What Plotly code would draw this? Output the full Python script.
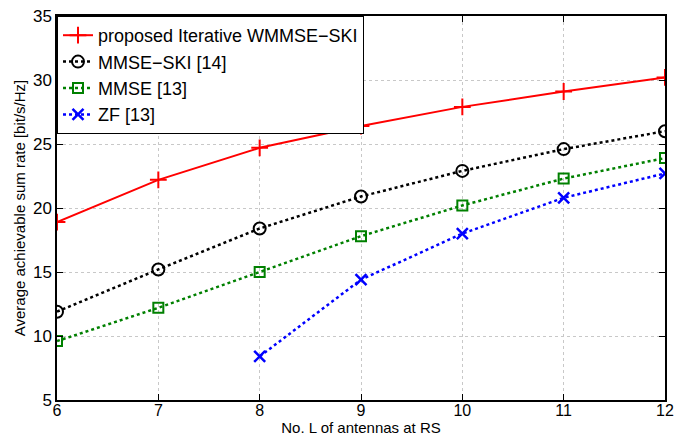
import plotly.graph_objects as go

L = [6, 7, 8, 9, 10, 11, 12]
proposed = [18.9, 22.2, 24.7, 26.4, 27.9, 29.1, 30.2]
mmse_ski = [11.9, 15.2, 18.4, 20.9, 22.9, 24.6, 26.0]
mmse = [9.6, 12.2, 15.0, 17.8, 20.2, 22.3, 23.9]
zf_L = [8, 9, 10, 11, 12]
zf = [8.4, 14.4, 18.0, 20.8, 22.7]

x_ticks = [6, 7, 8, 9, 10, 11, 12]
y_ticks = [5, 10, 15, 20, 25, 30, 35]

fig = go.Figure()
fig.add_trace(go.Scatter(x=L, y=proposed, mode="lines+markers",
                         name="proposed Iterative WMMSE\u2212SKI",
                         line=dict(color="#ff0000", width=2),
                         marker=dict(symbol="cross-thin-open", size=12,
                                     line=dict(color="#ff0000", width=2))))
fig.add_trace(go.Scatter(x=L, y=mmse_ski, mode="lines+markers",
                         name="MMSE\u2212SKI [14]",
                         line=dict(color="#000000", width=2.5, dash="3px,3px"),
                         marker=dict(symbol="circle-open", size=12,
                                     line=dict(color="#000000", width=2))))
fig.add_trace(go.Scatter(x=L, y=mmse, mode="lines+markers",
                         name="MMSE [13]",
                         line=dict(color="#008000", width=2.5, dash="3px,3px"),
                         marker=dict(symbol="square-open", size=10,
                                     line=dict(color="#008000", width=2))))
fig.add_trace(go.Scatter(x=zf_L, y=zf, mode="lines+markers",
                         name="ZF [13]",
                         line=dict(color="#0000ff", width=2.5, dash="3px,3px"),
                         marker=dict(symbol="x-thin-open", size=11,
                                     line=dict(color="#0000ff", width=2.5))))

axis_common = dict(showline=True, linecolor="black", linewidth=1.5, mirror="allticks",
                   ticks="inside", ticklen=6, tickcolor="black", tickwidth=1,
                   showgrid=True, gridcolor="#c8c8c8", griddash="dot", gridwidth=1,
                   zeroline=False, automargin=False,
                   tickfont=dict(size=17, color="black"))

fig.update_xaxes(range=[6, 12], tickvals=x_ticks, ticklabelstandoff=-5,
                 tickfont=dict(size=16, color="black"),
                 title=dict(text="No. L of antennas at RS", font=dict(size=15, color="black"), standoff=4),
                 **{k: v for k, v in axis_common.items() if k != "tickfont"})
fig.update_yaxes(range=[5, 35], tickvals=y_ticks,
                 title=dict(text="Average achievable sum rate [bit/s/Hz]", font=dict(size=15, color="black"), standoff=4),
                 **axis_common)

fig.update_layout(width=685, height=437,
                  margin=dict(l=57, r=20, t=16, b=37),
                  paper_bgcolor="white", plot_bgcolor="white",
                  font=dict(family="Liberation Sans, Arial, sans-serif", color="black"),
                  legend=dict(x=0, y=1, xanchor="left", yanchor="top",
                              bgcolor="white", bordercolor="black", borderwidth=1,
                              font=dict(size=18, color="black"),
                              itemwidth=30, tracegroupgap=0))

fig.write_html("out.html", config={"displayModeBar": False},
               post_script="document.body.style.margin='0';document.body.style.overflow='hidden';")
